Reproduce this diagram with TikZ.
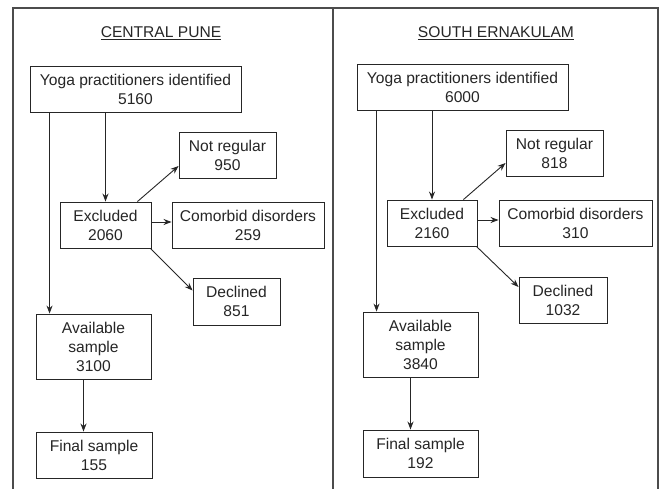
\documentclass[tikz,border=0pt]{standalone}
\usepackage{fontspec}
\setmainfont{Liberation Sans}
\usetikzlibrary{arrows.meta}
\begin{document}
\begin{tikzpicture}[x=1pt,y=-1pt,
  box/.style={draw=black!85, line width=0.9pt, inner sep=0pt, align=center,
    font=\fontsize{15.6}{19}\selectfont, text=black!85},
  arr/.style={draw=black!85, line width=0.9pt, -{Stealth[length=8pt,width=6pt]}},
  plain/.style={draw=black!85, line width=0.9pt},
  frame/.style={draw=black!70, line width=1.5pt},
  ttl/.style={font=\fontsize{15.6}{19}\selectfont, text=black!85, inner sep=0pt}]
\useasboundingbox (0,0) rectangle (659,489);
\fill[white] (0,0) rectangle (659,489);
% frame
\draw[frame] (13,489) -- (13,8) -- (658,8) -- (658,489);
\draw[frame] (333,8) -- (333,489);
% titles
\node[ttl] (tL) at (161,33) {\underline{CENTRAL PUNE}};
\node[ttl] (tR) at (496,33) {\underline{SOUTH ERNAKULAM}};
% left panel
\node[box, minimum width=211pt, minimum height=46pt] (yogaL) at (135.5,89) {Yoga practitioners identified\\5160};
\node[box, minimum width=97pt, minimum height=46pt] (notL) at (227.5,155) {Not regular\\950};
\node[box, minimum width=91pt, minimum height=46pt] (excL) at (105.5,225) {Excluded\\2060};
\node[box, minimum width=152pt, minimum height=46pt] (comL) at (248,225) {Comorbid disorders\\259};
\node[box, minimum width=87pt, minimum height=47pt] (decL) at (236.5,301.5) {Declined\\851};
\node[box, minimum width=115pt, minimum height=65pt] (avL) at (93.5,346.5) {Available\\sample\\3100};
\node[box, minimum width=116pt, minimum height=46pt] (finL) at (94,455) {Final sample\\155};
\draw[arr] (excL.north |- yogaL.south) -- (excL.north);
\draw[arr] ([xshift=20pt]yogaL.south west) coordinate (lL) -- (lL |- avL.north);
\draw[arr] ([xshift=-14pt]excL.north east) -- ([yshift=-11pt]notL.west);
\draw[arr] ([yshift=3pt]excL.east) -- ([yshift=3pt]comL.west);
\draw[arr] ([xshift=-1pt]excL.south east) -- ([yshift=11pt]decL.west);
\draw[arr] ([xshift=-10pt]avL.south) coordinate (aL) -- (aL |- finL.north);
% right panel
\node[box, minimum width=211pt, minimum height=46pt] (yogaR) at (462.5,87) {Yoga practitioners identified\\6000};
\node[box, minimum width=97pt, minimum height=46pt] (notR) at (554.5,153) {Not regular\\818};
\node[box, minimum width=90pt, minimum height=46pt] (excR) at (432,223) {Excluded\\2160};
\node[box, minimum width=153pt, minimum height=46pt] (comR) at (575.5,223) {Comorbid disorders\\310};
\node[box, minimum width=88pt, minimum height=46pt] (decR) at (563,300) {Declined\\1032};
\node[box, minimum width=115pt, minimum height=65pt] (avR) at (420.5,344.5) {Available\\sample\\3840};
\node[box, minimum width=115pt, minimum height=47pt] (finR) at (420.5,453.5) {Final sample\\192};
\draw[arr] (excR.north |- yogaR.south) -- (excR.north);
\draw[arr] ([xshift=20pt]yogaR.south west) coordinate (lR) -- (lR |- avR.north);
\draw[arr] ([xshift=-14pt]excR.north east) -- ([yshift=-10pt]notR.west);
\draw[arr] ([yshift=3pt]excR.east) -- ([yshift=3pt]comR.west);
\draw[arr] ([xshift=-1pt]excR.south east) -- ([yshift=13pt]decR.west);
\draw[arr] ([xshift=-10pt]avR.south) coordinate (aR) -- (aR |- finR.north);
\end{tikzpicture}
\end{document}
